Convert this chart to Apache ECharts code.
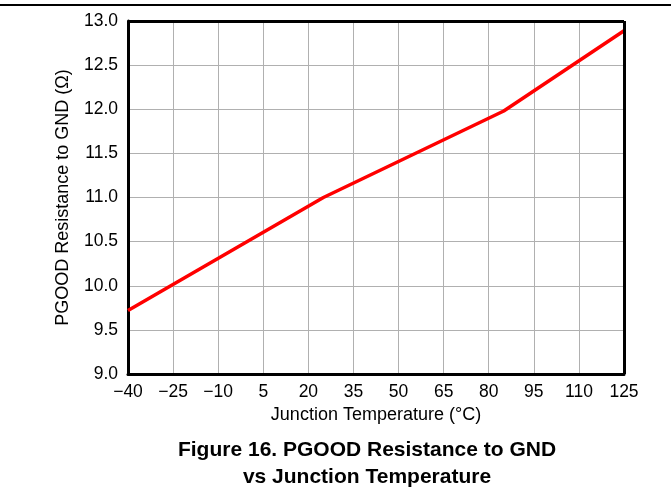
<!DOCTYPE html>
<html><head><meta charset="utf-8">
<script src="https://cdn.jsdelivr.net/npm/echarts@6/dist/echarts.min.js"></script>
<style>html,body{margin:0;padding:0;background:#fff}#c{width:671px;height:492px}</style>
</head><body><div id="c"></div>
<script>
const temps = [-40, 25, 85, 125];
const resistance = [9.72, 11.0, 11.98, 12.89];
const xTicks = [-40, -25, -10, 5, 20, 35, 50, 65, 80, 95, 110, 125];
const yTicks = [9.0, 9.5, 10.0, 10.5, 11.0, 11.5, 12.0, 12.5, 13.0];
const titleLines = ['Figure 16. PGOOD Resistance to GND', 'vs Junction Temperature'];
const xName = 'Junction Temperature (°C)';
const yName = 'PGOOD Resistance to GND (Ω)';

const chart = echarts.init(document.getElementById('c'), null, {renderer: 'canvas'});
const font = '"Liberation Sans", Arial, sans-serif';
chart.setOption({
  animation: false,
  title: {
    text: titleLines.join('\n'),
    left: 362, top: 432, textAlign: 'center',
    textStyle: {fontFamily: font, fontWeight: 'bold', fontSize: 21, lineHeight: 27, color: '#000'}
  },
  graphic: [{type: 'line', shape: {x1: 0, y1: 5, x2: 671, y2: 5}, style: {stroke: '#000', lineWidth: 2}}],
  grid: {left: 128, top: 21, width: 496, height: 353},
  xAxis: {
    type: 'value', min: xTicks[0], max: xTicks[xTicks.length - 1], interval: 15,
    name: xName, nameLocation: 'middle', nameGap: 32,
    nameTextStyle: {fontFamily: font, fontSize: 18, color: '#000'},
    axisLine: {show: true, onZero: false, lineStyle: {color: '#000', width: 3}},
    axisTick: {show: false},
    axisLabel: {fontFamily: font, fontSize: 17.5, color: '#000', margin: 9,
      formatter: v => (v < 0 ? '\u2212' + Math.abs(v) : String(v))},
    splitLine: {show: true, lineStyle: {color: '#b0b0b0', width: 1}}
  },
  yAxis: {
    type: 'value', min: yTicks[0], max: yTicks[yTicks.length - 1], interval: 0.5,
    name: yName, nameLocation: 'middle', nameGap: 56, nameRotate: 90,
    nameTextStyle: {fontFamily: font, fontSize: 18, color: '#000'},
    axisLine: {show: true, onZero: false, lineStyle: {color: '#000', width: 3}},
    axisTick: {show: false},
    axisLabel: {fontFamily: font, fontSize: 17.5, color: '#000', margin: 10,
      formatter: v => v.toFixed(1)},
    splitLine: {show: true, lineStyle: {color: '#b0b0b0', width: 1}}
  },
  series: [{
    type: 'line', data: temps.map((t, i) => [t, resistance[i]]),
    showSymbol: false, lineStyle: {color: '#ff0000', width: 3.5}, itemStyle: {color: '#ff0000'}
  }, {
    type: 'line', data: [], markLine: {silent: true, symbol: 'none', label: {show: false},
      lineStyle: {color: '#000', width: 3, type: 'solid'},
      data: [[{coord: [xTicks[0], yTicks[yTicks.length-1]]}, {coord: [xTicks[xTicks.length-1], yTicks[yTicks.length-1]]}],
             [{coord: [xTicks[xTicks.length-1], yTicks[0]]}, {coord: [xTicks[xTicks.length-1], yTicks[yTicks.length-1]]}]]}
  }]
});
</script></body></html>
